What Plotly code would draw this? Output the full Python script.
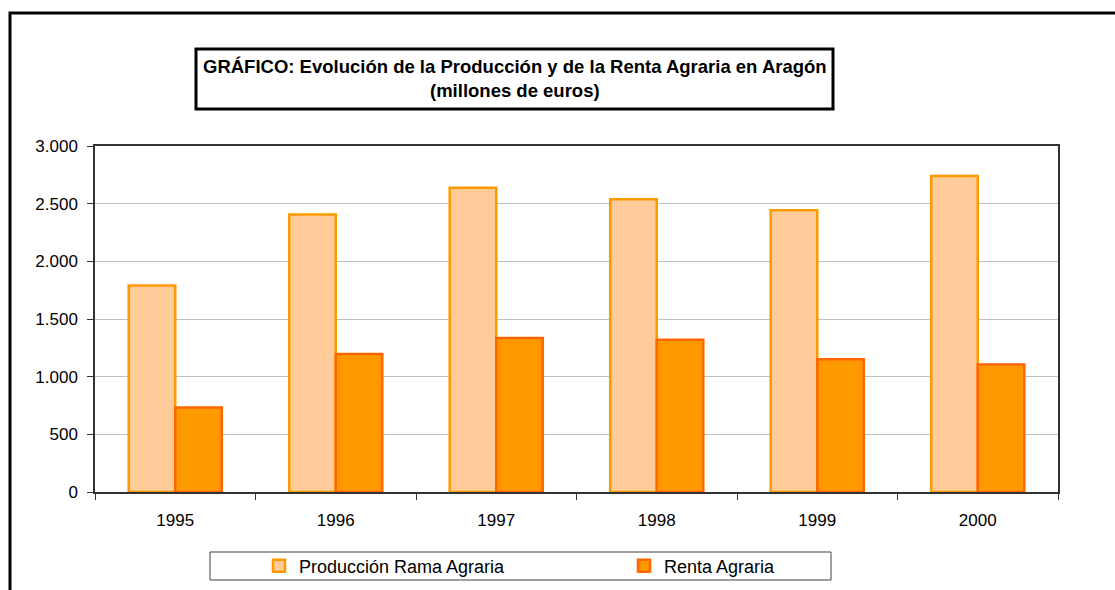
import plotly.graph_objects as go

years = ["1995", "1996", "1997", "1998", "1999", "2000"]
produccion = [1790, 2405, 2638, 2538, 2442, 2740]
renta = [732, 1197, 1336, 1320, 1150, 1105]

FONT = "Arial, Liberation Sans, sans-serif"

W, H = 1115, 590
L, R, T, B = 95, 57, 146, 98
pw = W - L - R
ph = H - T - B

def px_x(x):
    return (x - L) / pw

def px_y(y):
    return (H - B - y) / ph

fig = go.Figure()
fig.add_trace(go.Bar(
    x=years, y=produccion, name="Producción Rama Agraria",
    marker=dict(color="#FFCC99", line=dict(color="#FF9900", width=2.5)),
))
fig.add_trace(go.Bar(
    x=years, y=renta, name="Renta Agraria",
    marker=dict(color="#FF9900", line=dict(color="#FF6600", width=2.5)),
))

fig.update_layout(
    width=W, height=H,
    margin=dict(l=L, r=R, t=T, b=B, pad=0, autoexpand=False),
    paper_bgcolor="white", plot_bgcolor="white",
    barmode="group", bargap=0.42, bargroupgap=0,
    separators=",.",
    font=dict(family=FONT, size=18, color="black"),
    showlegend=True,
    legend=dict(
        orientation="h", xref="paper", yref="container",
        x=px_x(259), y=1 - 566 / H, xanchor="left", yanchor="middle",
        bgcolor="rgba(0,0,0,0)", borderwidth=0,
        font=dict(family=FONT, size=18, color="black"),
        entrywidth=320, entrywidthmode="pixels", itemwidth=30,
        traceorder="normal",
    ),
    xaxis=dict(
        type="category", showgrid=False, showline=True, linecolor="#333333", linewidth=1.5,
        mirror=True, ticks="outside", ticklen=6, tickcolor="#333333", tickson="boundaries",
        ticklabelstandoff=12, tickfont=dict(family=FONT, size=17), automargin=False,
    ),
    yaxis=dict(
        range=[0, 3000], dtick=500, tickformat=",.0f",
        showgrid=True, gridcolor="#C0C0C0", gridwidth=1,
        showline=True, linecolor="#333333", linewidth=1.5, mirror=True,
        ticks="outside", ticklen=6, tickcolor="#333333", zeroline=False,
        ticklabelstandoff=6, tickfont=dict(family=FONT, size=17), automargin=False,
    ),
    shapes=[
        dict(type="rect", xref="paper", yref="paper",
             x0=px_x(10), x1=px_x(1140), y0=px_y(620), y1=px_y(13),
             line=dict(color="black", width=3), fillcolor="rgba(0,0,0,0)"),
        dict(type="rect", xref="paper", yref="paper",
             x0=px_x(196), x1=px_x(833), y0=px_y(109), y1=px_y(49),
             line=dict(color="black", width=3), fillcolor="rgba(0,0,0,0)"),
        dict(type="rect", xref="paper", yref="paper",
             x0=px_x(210), x1=px_x(831), y0=px_y(580), y1=px_y(552),
             line=dict(color="#404040", width=1), fillcolor="rgba(0,0,0,0)"),
    ],
    annotations=[
        dict(xref="paper", yref="paper", x=px_x(514.5), y=px_y(79), xanchor="center", yanchor="middle",
             showarrow=False, align="center",
             text="<b>GRÁFICO: Evolución de la Producción y de la Renta Agraria en Aragón<br>(millones de euros)</b>",
             font=dict(family=FONT, size=18.5, color="black")),
    ],
)

fig.write_html(
    "out.html",
    config={"displayModeBar": False},
    post_script="document.body.style.margin='0';document.body.style.overflow='hidden';",
)
